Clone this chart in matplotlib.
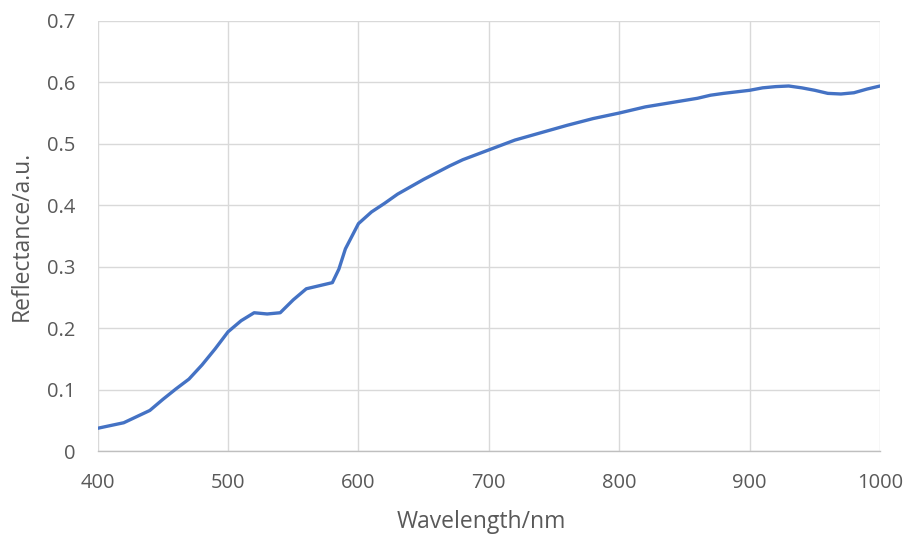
import matplotlib.pyplot as plt
from matplotlib.ticker import FuncFormatter

# wavelength (nm) and reflectance
wavelength = [400, 420, 440, 450, 460, 470, 480, 490, 500, 510, 520, 530, 540,
              550, 560, 570, 580, 585, 590, 600, 610, 620, 630, 640, 650, 660,
              670, 680, 690, 700, 710, 720, 740, 760, 780, 800, 820, 840, 860,
              870, 880, 900, 910, 920, 930, 940, 950, 960, 970, 980, 990, 1000]
reflectance = [0.037, 0.046, 0.066, 0.084, 0.101, 0.117, 0.140, 0.166, 0.194,
               0.212, 0.225, 0.223, 0.225, 0.246, 0.264, 0.269, 0.274, 0.296,
               0.329, 0.370, 0.389, 0.403, 0.418, 0.430, 0.442, 0.453, 0.464,
               0.474, 0.482, 0.490, 0.498, 0.506, 0.518, 0.530, 0.541, 0.550,
               0.560, 0.567, 0.574, 0.579, 0.582, 0.587, 0.591, 0.593, 0.594,
               0.591, 0.587, 0.582, 0.581, 0.583, 0.589, 0.594]

xticks = [400, 500, 600, 700, 800, 900, 1000]
yticks = [0, 0.1, 0.2, 0.3, 0.4, 0.5, 0.6, 0.7]

plt.rcParams['font.family'] = ['Open Sans', 'DejaVu Sans']

fig = plt.figure(figsize=(9.06, 5.35), dpi=100)
ax = fig.add_axes([0.1078, 0.157, 0.8635, 0.804])

ax.plot(wavelength, reflectance, color='#4472C4', linewidth=2.4,
        solid_capstyle='round', solid_joinstyle='round', zorder=3)

ax.set_xlim(400, 1000)
ax.set_ylim(0, 0.7)
ax.set_xticks(xticks)
ax.set_yticks(yticks)
ax.yaxis.set_major_formatter(FuncFormatter(lambda v, p: '0' if v == 0 else f'{v:.1f}'))

ax.grid(True, color='#d9d9d9', linewidth=1.0)
ax.set_axisbelow(True)
for s in ['top', 'right', 'left']:
    ax.spines[s].set_visible(False)
ax.spines['bottom'].set_color('#bfbfbf')
ax.spines['bottom'].set_linewidth(1.0)

ax.tick_params(length=0, labelsize=14.5, labelcolor='#595959')
ax.tick_params(axis='x', pad=16)
ax.tick_params(axis='y', pad=16)
ax.set_xlabel('Wavelength/nm', fontsize=16.5, color='#595959', va='center')
ax.set_ylabel('Reflectance/a.u.', fontsize=16.5, color='#595959', va='center')
ax.xaxis.set_label_coords(0.491, -0.165)
ax.yaxis.set_label_coords(-0.097, 0.501)

fig.savefig('out.png', dpi=100)
